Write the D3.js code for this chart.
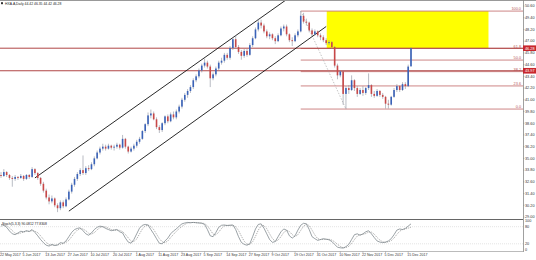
<!DOCTYPE html>
<html>
<head>
<meta charset="utf-8">
<title>HXA.A Daily</title>
<style>
  html, body { margin: 0; padding: 0; background: #fff; }
  svg { display: block; font-family: "Liberation Sans", Arial, sans-serif; }
</style>
</head>
<body>
<svg width="536" height="260"></svg>
<script src="https://d3js.org/d3.v7.min.js"></script>
<script>
// daily bars, 22 May 2017 .. 19 Dec 2017
var opens = [33.3,33.2,33.6,33.3,33.0,32.9,33.1,33.0,33.2,32.9,33.3,33.1,33.9,33.5,33.0,32.4,31.7,31.0,30.6,30.9,
  30.2,29.9,30.5,30.1,30.8,31.6,32.3,32.9,33.4,33.8,33.5,34.0,33.9,34.4,35.0,35.6,36.0,36.2,36.0,36.3,
  36.1,36.2,36.4,36.1,37.0,36.2,35.7,36.0,36.3,36.7,37.0,37.8,38.5,39.4,39.6,39.0,38.2,37.9,38.6,39.3,
  38.8,39.5,39.2,39.8,40.3,41.0,41.5,41.9,42.3,43.0,43.4,44.0,44.5,44.8,44.4,43.2,43.6,44.2,44.8,45.0,
  45.6,45.3,46.3,47.2,46.4,45.9,45.5,46.0,45.6,46.6,47.3,48.2,48.9,48.6,48.0,47.5,47.7,47.3,47.0,47.6,
  48.3,48.5,47.7,47.1,47.0,47.6,48.0,49.6,49.0,48.9,48.1,47.7,48.0,47.6,47.4,47.1,46.8,46.9,46.4,44.5,
  43.5,43.9,41.6,42.2,42.0,43.0,42.2,41.6,42.0,41.7,42.2,42.5,41.6,41.4,41.9,41.5,41.3,40.6,40.5,41.3,
  42.0,42.4,42.0,42.6,42.4,44.42];
var highs = [33.6,33.9,33.7,33.4,33.2,33.3,33.2,33.4,33.3,33.4,33.4,34.1,34.0,33.6,33.1,32.6,31.9,31.3,31.2,31.0,
  30.4,30.7,30.7,31.0,31.8,32.5,33.1,33.6,34.0,35.3,34.2,34.3,34.6,35.2,35.8,36.2,36.5,36.4,36.5,36.4,
  36.4,36.6,36.5,37.4,37.1,36.3,36.2,36.5,36.9,37.2,37.9,38.6,39.7,40.0,39.8,39.2,38.4,38.7,39.4,39.5,
  39.7,39.8,40.0,40.5,41.2,41.7,42.1,42.5,43.2,43.6,44.2,44.7,45.2,45.0,44.6,43.8,44.4,45.0,45.3,45.8,
  45.8,46.5,47.4,47.6,46.6,46.1,46.2,46.2,46.8,47.5,48.4,49.3,49.2,48.8,48.2,47.9,47.8,47.5,47.8,48.5,
  48.7,48.7,47.8,47.4,47.8,48.2,50.08,49.9,49.3,49.0,48.3,48.2,48.1,47.8,47.6,47.3,47.1,47.0,46.5,44.7,
  44.0,44.0,42.4,42.5,43.5,43.1,42.4,42.2,42.4,42.3,43.7,42.6,41.9,42.1,42.0,41.7,41.4,41.0,41.4,42.2,
  42.6,42.5,42.8,42.8,44.6,46.35];
var lows = [33.0,33.1,33.1,32.8,32.1,32.7,32.8,32.9,32.7,32.8,32.9,33.0,33.3,32.8,32.2,31.5,30.8,30.3,30.4,30.0,
  29.5,29.7,29.9,30.0,30.7,31.4,32.1,32.7,33.2,33.3,33.3,33.7,33.8,34.2,34.9,35.4,35.8,35.8,35.9,35.9,
  35.8,36.0,35.9,36.0,36.0,35.5,35.6,35.8,36.1,36.5,36.9,37.6,38.3,39.1,38.9,38.0,37.6,37.7,38.4,38.6,
  38.7,39.0,39.0,39.6,40.1,40.8,41.2,41.7,42.1,42.8,43.2,43.8,44.3,44.2,42.3,43.0,43.4,44.0,44.6,44.8,
  45.1,45.1,46.1,46.2,45.7,45.1,45.3,45.4,45.5,46.4,47.2,48.0,48.3,47.8,47.3,47.2,47.1,46.7,46.9,47.5,
  48.0,47.5,46.9,46.5,46.9,47.4,47.9,48.8,48.6,47.9,47.5,47.6,47.4,47.1,46.9,46.6,46.6,46.2,44.3,43.1,
  43.3,40.5,40.05,41.6,41.9,41.9,41.3,41.5,41.4,41.5,42.0,41.3,41.2,41.3,41.3,41.1,40.1,40.1,40.4,41.2,
  41.8,41.8,41.9,42.1,42.3,44.42];
var closes = [33.2,33.6,33.3,33.0,32.9,33.1,33.0,33.2,32.9,33.3,33.1,33.9,33.5,33.0,32.4,31.7,31.0,30.6,30.9,30.2,
  29.9,30.5,30.1,30.8,31.6,32.3,32.9,33.4,33.8,33.5,34.0,33.9,34.4,35.0,35.6,36.0,36.2,36.0,36.3,36.1,
  36.2,36.4,36.1,37.0,36.2,35.7,36.0,36.3,36.7,37.0,37.8,38.5,39.4,39.6,39.0,38.2,37.9,38.6,39.3,38.8,
  39.5,39.2,39.8,40.3,41.0,41.5,41.9,42.3,43.0,43.4,44.0,44.5,44.8,44.4,43.2,43.6,44.2,44.8,45.0,45.6,
  45.3,46.3,47.2,46.4,45.9,45.5,46.0,45.6,46.6,47.3,48.2,48.9,48.6,48.0,47.5,47.7,47.3,47.0,47.6,48.3,
  48.5,47.7,47.1,47.0,47.6,48.0,49.6,49.0,48.9,48.1,47.7,48.0,47.6,47.4,47.1,46.8,46.9,46.4,44.5,43.5,
  43.9,41.6,42.2,42.0,43.0,42.2,41.6,42.0,41.7,42.2,42.5,41.6,41.4,41.9,41.5,41.3,40.6,40.5,41.3,42.0,
  42.4,42.0,42.6,42.4,44.4,46.28];

// Stochastic (5,3,3): main and signal
var stochMain = [88,85,78,65,55,52,58,64,62,66,63,70,60,48,35,24,15,12,18,14,
  16,24,22,30,45,60,70,74,76,66,55,50,58,70,78,82,80,74,70,66,
  68,70,62,58,40,26,22,35,55,75,85,88,86,70,55,38,22,20,30,40,
  55,65,72,82,90,93,95,94,95,94,93,92,88,70,48,45,60,78,85,86,
  84,85,86,70,45,25,18,15,20,45,72,88,90,75,55,35,25,28,45,62,
  72,68,48,40,48,68,85,92,90,70,45,38,32,35,38,36,34,28,18,8,
  6,5,10,18,35,52,55,50,55,62,66,55,42,30,26,24,26,30,38,52,
  68,72,70,74,82,90];
var stochSignal = [82,85,84,76,66,57,55,58,61,64,64,66,64,59,48,36,25,17,15,15,
  16,18,21,25,32,45,58,68,73,72,66,57,54,59,69,77,80,79,75,70,
  68,68,67,63,53,41,29,28,37,55,72,83,86,81,70,54,38,27,24,30,
  42,53,64,73,81,88,93,94,95,94,94,93,91,83,69,54,51,61,74,83,
  85,85,85,80,67,47,29,19,18,27,46,68,83,84,73,55,38,29,33,45,
  60,67,63,52,45,52,67,82,89,84,68,51,38,35,35,36,36,33,27,18,
  11,6,7,11,21,35,47,52,53,56,61,61,54,42,33,27,25,27,31,40,
  53,64,70,72,75,78];

var dateLabels = ["22 May 2017","5 Jun 2017","13 Jun 2017","27 Jun 2017","10 Jul 2017","20 Jul 2017",
  "1 Aug 2017","11 Aug 2017","23 Aug 2017","5 Sep 2017","14 Sep 2017","27 Sep 2017","9 Oct 2017",
  "19 Oct 2017","31 Oct 2017","10 Nov 2017","22 Nov 2017","5 Dec 2017","15 Dec 2017"];
var dateLabelBars = [0,8,16,24,32,40,48,56,64,72,80,88,96,104,112,120,128,136,144];

var priceTicks = [29.00,30.20,31.40,32.60,33.80,35.00,36.20,37.40,38.60,39.80,41.00,42.20,43.40,44.60,45.80,47.00,48.20,49.40,50.60];
var stochTicks = [100, 80, 20, 0];
var stochLevels = [80, 20];

// drawn objects
var fibLevels = [0, 23.6, 38.2, 50, 61.8, 100];
var fibHigh = {bar: 106, price: 50.08};
var fibLow = {bar: 122, price: 40.05};
var hLines = [46.28, 43.97];
var channelUpper = [{bar: 12, price: 33.0}, {bar: 108, price: 52.7}];
var channelLower = [{bar: 24, price: 29.6}, {bar: 115, price: 48.5}];
var zoneBox = {bar0: 115.2, bar1: 172.4, top: 50.08, bottom: 46.3};

var title = "HXA.A,Daily  44.42 46.35 44.42 46.28";
var stochTitle = "Stoch(5,3,3) 90.0812 77.8308";

// ---------------------------------------------------------------
var plotRight = 523;
var svg = d3.select('svg');

var x = d3.scaleLinear().domain([0, closes.length - 1]).range([1, 411]);
var y = d3.scaleLinear().domain([29.0, 50.6]).range([217, 6]);
var ys = d3.scaleLinear().domain([0, 100]).range([249.5, 221]);

svg.append('defs').append('clipPath').attr('id', 'mainClip')
  .append('rect').attr('x', 0).attr('y', 1).attr('width', plotRight).attr('height', 218);

var main = svg.append('g').attr('clip-path', 'url(#mainClip)');

// yellow zone
main.append('rect')
  .attr('x', x(zoneBox.bar0))
  .attr('y', y(zoneBox.top))
  .attr('width', x(zoneBox.bar1) - x(zoneBox.bar0))
  .attr('height', y(zoneBox.bottom) - y(zoneBox.top))
  .attr('fill', '#ffff00');

// fibonacci
var fibRange = fibHigh.price - fibLow.price;
fibLevels.forEach(function (lv) {
  var p = fibLow.price + fibRange * lv / 100;
  main.append('line')
    .attr('x1', x(fibHigh.bar)).attr('x2', plotRight)
    .attr('y1', y(p)).attr('y2', y(p))
    .attr('stroke', '#c87878').attr('stroke-width', 0.9);
  main.append('text')
    .attr('x', plotRight - 2).attr('y', y(p) - 0.8)
    .attr('text-anchor', 'end')
    .attr('font-size', '3.8px')
    .attr('fill', '#b85858')
    .text(lv.toFixed(1));
});
main.append('line')
  .attr('x1', x(fibHigh.bar)).attr('y1', y(fibHigh.price))
  .attr('x2', x(fibLow.bar)).attr('y2', y(fibLow.price))
  .attr('stroke', '#aaa').attr('stroke-width', 0.7).attr('stroke-dasharray', '1.5,1.5');

// horizontal lines
hLines.forEach(function (p) {
  main.append('line')
    .attr('x1', 0).attr('x2', plotRight)
    .attr('y1', y(p)).attr('y2', y(p))
    .attr('stroke', '#b04646').attr('stroke-width', 1);
});

// channel
[channelUpper, channelLower].forEach(function (c) {
  main.append('line')
    .attr('x1', x(c[0].bar)).attr('y1', y(c[0].price))
    .attr('x2', x(c[1].bar)).attr('y2', y(c[1].price))
    .attr('stroke', '#111').attr('stroke-width', 0.9);
});

// candles
var bars = d3.range(closes.length);
var candle = main.append('g').selectAll('g').data(bars).enter().append('g');
candle.append('line')
  .attr('x1', function (i) { return x(i); })
  .attr('x2', function (i) { return x(i); })
  .attr('y1', function (i) { return y(highs[i]); })
  .attr('y2', function (i) { return y(lows[i]); })
  .attr('stroke', '#8a8f9c')
  .attr('stroke-width', 0.6);
candle.append('rect')
  .attr('x', function (i) { return x(i) - 0.8; })
  .attr('width', 1.6)
  .attr('y', function (i) { return y(Math.max(opens[i], closes[i])); })
  .attr('height', function (i) { return Math.max(0.6, Math.abs(y(opens[i]) - y(closes[i]))); })
  .attr('fill', function (i) { return closes[i] >= opens[i] ? '#3a62b8' : '#c84848'; });

// frame
svg.append('line').attr('x1', 0).attr('x2', 536).attr('y1', 0.5).attr('y2', 0.5).attr('stroke', '#999');
svg.append('line').attr('x1', 0).attr('x2', plotRight).attr('y1', 219.5).attr('y2', 219.5)
  .attr('stroke', '#666').attr('stroke-width', 1.2);
svg.append('line').attr('x1', 0).attr('x2', plotRight).attr('y1', 251.5).attr('y2', 251.5)
  .attr('stroke', '#aaa').attr('stroke-width', 0.8);
svg.append('line').attr('x1', plotRight + 0.5).attr('x2', plotRight + 0.5).attr('y1', 0).attr('y2', 252)
  .attr('stroke', '#888').attr('stroke-width', 0.8);

// price axis
var pAxis = svg.append('g').attr('font-size', '3.8px').attr('fill', '#333');
priceTicks.forEach(function (t) {
  pAxis.append('line').attr('x1', plotRight).attr('x2', plotRight + 1.5)
    .attr('y1', y(t)).attr('y2', y(t)).attr('stroke', '#888').attr('stroke-width', 0.5);
  pAxis.append('text').attr('x', 525).attr('y', y(t) + 1.3).text(t.toFixed(2));
});
hLines.forEach(function (p) {
  svg.append('rect').attr('x', plotRight).attr('y', y(p) - 2.8).attr('width', 13).attr('height', 5.6)
    .attr('fill', '#c8262c');
  svg.append('text').attr('x', 525).attr('y', y(p) + 1.3).attr('font-size', '3.8px')
    .attr('fill', '#fff').text(p.toFixed(2));
});

// stochastic panel
stochLevels.forEach(function (lv) {
  svg.append('line').attr('x1', 0).attr('x2', plotRight)
    .attr('y1', ys(lv)).attr('y2', ys(lv))
    .attr('stroke', '#c8c8c8').attr('stroke-width', 0.5).attr('stroke-dasharray', '1,1');
});
var stochLine = d3.line().x(function (d, i) { return x(i); }).y(function (d) { return ys(d); });
svg.append('path').datum(stochSignal).attr('d', stochLine)
  .attr('fill', 'none').attr('stroke', '#8a8a8a').attr('stroke-width', 0.7).attr('stroke-dasharray', '1.2,1');
svg.append('path').datum(stochMain).attr('d', stochLine)
  .attr('fill', 'none').attr('stroke', '#707a80').attr('stroke-width', 0.7);
stochTicks.forEach(function (t) {
  svg.append('text').attr('x', 525).attr('y', ys(t) + 1.3).attr('font-size', '3.8px')
    .attr('fill', '#333').text(t);
});
svg.append('text').attr('x', 2).attr('y', 224.5).attr('font-size', '3.4px').attr('fill', '#222').text(stochTitle);

// date axis
dateLabels.forEach(function (d, k) {
  var xi = x(dateLabelBars[k]);
  svg.append('line').attr('x1', xi).attr('x2', xi).attr('y1', 251.5).attr('y2', 253)
    .attr('stroke', '#888').attr('stroke-width', 0.5);
  svg.append('text').attr('x', xi - 1).attr('y', 256).attr('font-size', '3.6px')
    .attr('fill', '#333').text(d);
});

// title
svg.append('rect').attr('x', 1).attr('y', 2.2).attr('width', 2).attr('height', 2).attr('fill', '#333');
svg.append('text').attr('x', 5).attr('y', 4.6).attr('font-size', '3.4px').attr('fill', '#222').text(title);
</script>
</body>
</html>
